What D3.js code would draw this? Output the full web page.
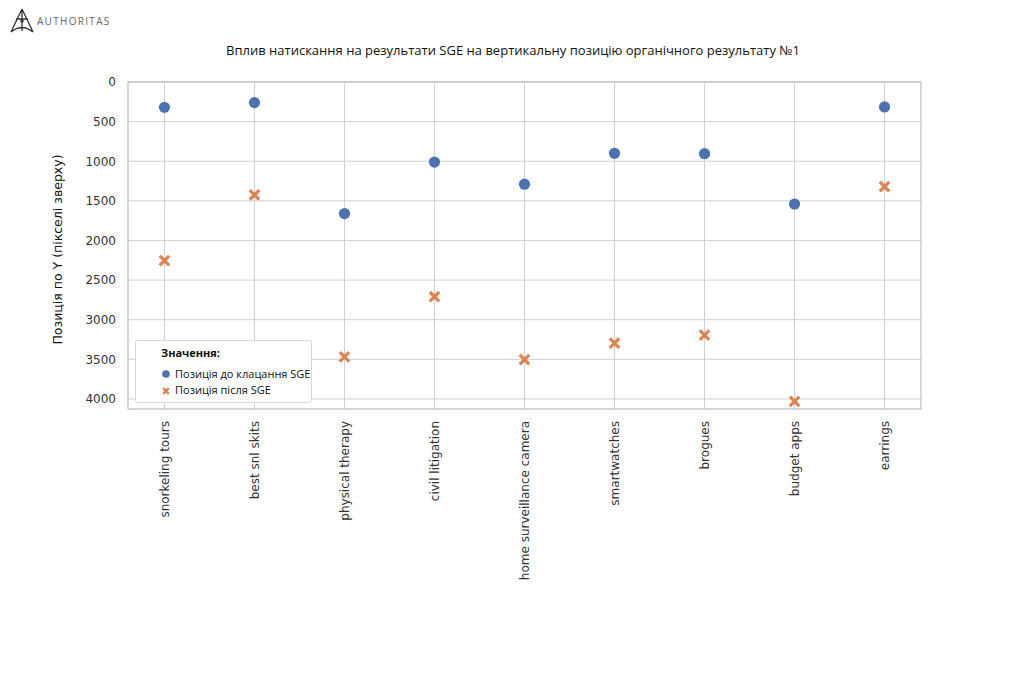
<!DOCTYPE html>
<html><head><meta charset="utf-8">
<script src="https://cdn.jsdelivr.net/npm/d3@7"></script>
<style>body{margin:0;background:#fff;} svg{display:block;}</style>
</head><body>
<svg id="chart" width="1024" height="683"></svg>
<script>
const categories = ["snorkeling tours","best snl skits","physical therapy","civil litigation","home surveillance camera","smartwatches","brogues","budget apps","earrings"];
const beforeSGE = [320, 260, 1660, 1010, 1290, 900, 905, 1540, 315];
const afterSGE = [2255, 1425, 3470, 2710, 3505, 3295, 3195, 4030, 1320];
const yTicks = [0, 500, 1000, 1500, 2000, 2500, 3000, 3500, 4000];
const seriesNames = ["Позиція до клацання SGE", "Позиція після SGE"];
const title = "Вплив натискання на результати SGE на вертикальну позицію органічного результату №1";
const yLabel = "Позиція по Y (пікселі зверху)";
const legendTitle = "Значення:";

const svg = d3.select("#chart");
const L = 128, R = 921, T = 82, B = 409;
const x = d3.scalePoint().domain(categories).range([L, R]).padding(0.405);
const y = d3.scaleLinear().domain([0, 4127]).range([T, B]);
const blue = "#4c72b0", orange = "#dd8452";
const tickFont = "DejaVu Sans";

// logo
const logo = svg.append("g").attr("transform", "translate(22,21)");
logo.append("path").attr("d", "M0,-12 L-11,11 M0,-12 L11,11 M-11,11 Q0,2 11,11 M-6,-2 L6,-2 M0,-12 L0,10")
  .attr("fill", "none").attr("stroke", "#333").attr("stroke-width", 1.3);
logo.append("circle").attr("cx", 0).attr("cy", 0).attr("r", 1.8).attr("fill", "#333");
svg.append("text").attr("x", 37).attr("y", 25).text("AUTHORITAS")
  .attr("font-family", "Open Sans").attr("font-size", 10).attr("letter-spacing", 1.3).attr("fill", "#666");

// title
svg.append("text").attr("x", 513).attr("y", 55).attr("text-anchor", "middle")
  .attr("font-family", "Open Sans").attr("font-size", 13).attr("fill", "#111")
  .attr("textLength", 574).attr("lengthAdjust", "spacingAndGlyphs").text(title);

// grid
const g = svg.append("g");
g.selectAll(".hg").data(yTicks).join("line")
  .attr("x1", L).attr("x2", R).attr("y1", d => y(d)).attr("y2", d => y(d))
  .attr("stroke", "#d0d0d0").attr("stroke-width", 1);
g.selectAll(".vg").data(categories).join("line")
  .attr("x1", d => x(d)).attr("x2", d => x(d)).attr("y1", T).attr("y2", B)
  .attr("stroke", "#d0d0d0").attr("stroke-width", 1);
g.append("rect").attr("x", L).attr("y", T).attr("width", R - L).attr("height", B - T)
  .attr("fill", "none").attr("stroke", "#bdbdbd").attr("stroke-width", 1.2);

// y axis
const yAxis = svg.append("g").attr("transform", `translate(${L},0)`)
  .call(d3.axisLeft(y).tickValues(yTicks).tickSize(0).tickPadding(12).tickFormat(d3.format("d")));
yAxis.select(".domain").remove();
yAxis.selectAll("text").attr("font-family", tickFont).attr("font-size", 12).attr("fill", "#333");

// x axis
const xAxis = svg.append("g").attr("transform", `translate(0,${B})`)
  .call(d3.axisBottom(x).tickSize(0).tickPadding(0));
xAxis.select(".domain").remove();
xAxis.selectAll("text").attr("font-family", tickFont).attr("font-size", 12).attr("fill", "#333")
  .attr("transform", "rotate(-90)").attr("text-anchor", "end").attr("dy", "0.35em").attr("x", -12).attr("y", 0);

// y label
svg.append("text").attr("transform", `translate(62,${(T + B) / 2 + 4}) rotate(-90)`)
  .attr("text-anchor", "middle").attr("font-family", tickFont).attr("font-size", 12.5).attr("fill", "#111").text(yLabel);

// points
const xPath = d3.symbol().type(d3.symbolX).size(60)();
svg.append("g").selectAll("path").data(afterSGE).join("path")
  .attr("d", xPath)
  .attr("transform", (d, i) => `translate(${x(categories[i])},${y(d)})`)
  .attr("stroke", orange).attr("stroke-width", 3.2).attr("fill", "none");
svg.append("g").selectAll("circle").data(beforeSGE).join("circle")
  .attr("cx", (d, i) => x(categories[i])).attr("cy", d => y(d)).attr("r", 5.6)
  .attr("fill", blue);

// legend
const lg = svg.append("g");
lg.append("rect").attr("x", 135.5).attr("y", 340.5).attr("width", 176).attr("height", 62)
  .attr("rx", 2).attr("fill", "#fff").attr("stroke", "#d8d8d8");
lg.append("text").attr("x", 161).attr("y", 357).text(legendTitle)
  .attr("font-family", "Open Sans").attr("font-weight", "bold").attr("font-size", 11).attr("fill", "#111");
const items = lg.selectAll(".it").data(seriesNames).join("g")
  .attr("transform", (d, i) => `translate(0,${374 + i * 16})`);
items.append("text").attr("x", 175).attr("y", 4).text(d => d)
  .attr("font-family", "Open Sans").attr("font-size", 11).attr("fill", "#111");
items.filter((d, i) => i === 0).append("circle").attr("cx", 166).attr("cy", 0).attr("r", 3.8).attr("fill", blue);
items.filter((d, i) => i === 1).append("path").attr("d", d3.symbol().type(d3.symbolX).size(22)())
  .attr("transform", "translate(166,1)").attr("stroke", orange).attr("stroke-width", 2.4).attr("fill", "none");
</script>
</body></html>
